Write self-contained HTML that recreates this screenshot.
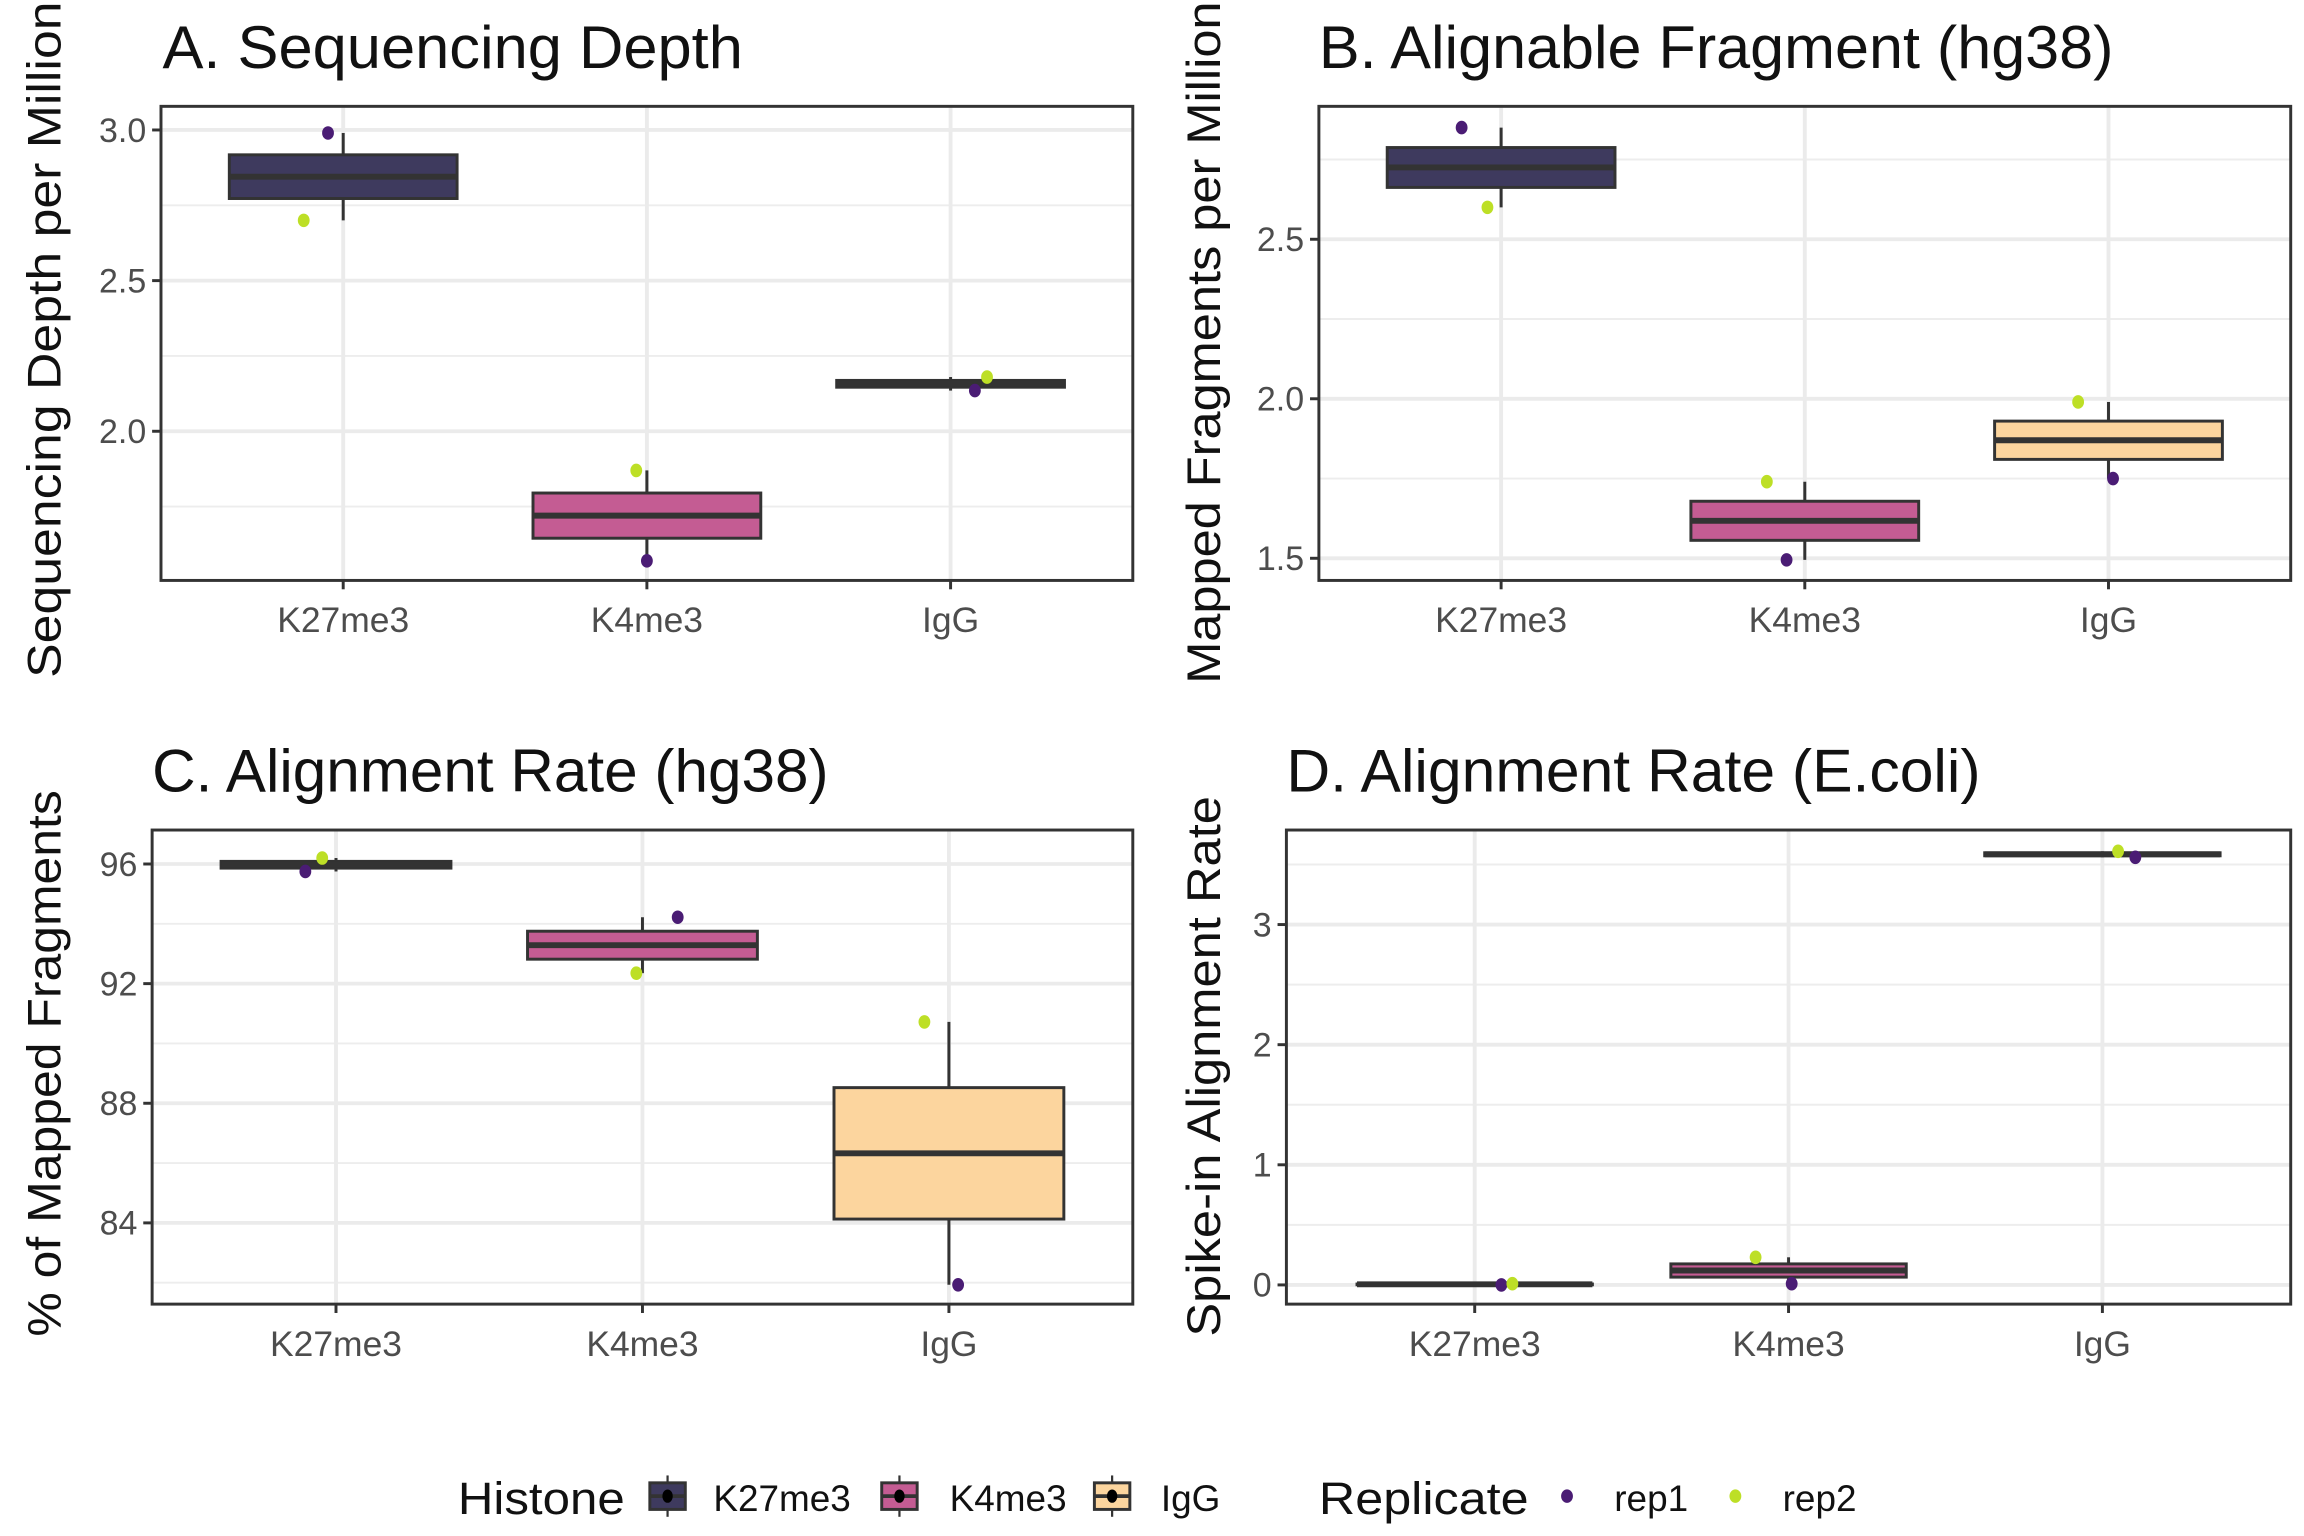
<!DOCTYPE html>
<html><head><meta charset="utf-8"><style>
html,body{margin:0;padding:0;background:#fff;}
svg{display:block;}
text{font-family:"Liberation Sans Narrow","Liberation Sans",sans-serif;}
</style></head><body>
<svg id="chart" width="2304" height="1536" viewBox="0 0 1560 1040" preserveAspectRatio="none" xmlns="http://www.w3.org/2000/svg"></svg>
<script>
const categories = ["K27me3","K4me3","IgG"];
const histoneColors = ["#3e3a5e","#c45c93","#fcd59e"];
const repLabels = ["rep1","rep2"];
const repColors = ["#4a1c74","#bddf26"];
// panel A: sequencing depth (millions)
const aRep1 = [2.99, 1.57, 2.135];
const aRep2 = [2.70, 1.87, 2.18];
const aJit1 = [-0.05, 0.0, 0.08];
const aJit2 = [-0.13, -0.035, 0.12];
const aTicks = [2.0, 2.5, 3.0];
const aTickLabels = ["2.0","2.5","3.0"];
// panel B: alignable fragments
const bRep1 = [2.85, 1.495, 1.75];
const bRep2 = [2.60, 1.74, 1.99];
const bJit1 = [-0.13, -0.06, 0.015];
const bJit2 = [-0.045, -0.125, -0.10];
const bTicks = [1.5, 2.0, 2.5];
const bTickLabels = ["1.5","2.0","2.5"];
// panel C: alignment rate hg38
const cRep1 = [95.75, 94.22, 81.93];
const cRep2 = [96.2, 92.35, 90.72];
const cJit1 = [-0.10, 0.115, 0.03];
const cJit2 = [-0.045, -0.02, -0.08];
const cTicks = [84, 88, 92, 96];
const cTickLabels = ["84","88","92","96"];
// panel D: alignment rate E.coli
const dRep1 = [0.0, 0.01, 3.56];
const dRep2 = [0.01, 0.23, 3.61];
const dJit1 = [0.085, 0.01, 0.105];
const dJit2 = [0.12, -0.105, 0.05];
const dTicks = [0, 1, 2, 3];
const dTickLabels = ["0","1","2","3"];

const svg = document.getElementById('chart');
const NS = 'http://www.w3.org/2000/svg';
function mk(tag, attrs, parent, txt){
  const e = document.createElementNS(NS, tag);
  for (const k in attrs) e.setAttribute(k, attrs[k]);
  if (txt !== undefined) e.textContent = txt;
  (parent || svg).appendChild(e);
  return e;
}
function q(a,b,p){const lo=Math.min(a,b),hi=Math.max(a,b);return lo+(hi-lo)*p;}

function panel(cfg){
  const g = mk('g', {});
  
  
  const {x0,x1,y0,y1,vmin,vmax} = cfg;
  const ys = v => y1 - (v - vmin) / (vmax - vmin) * (y1 - y0);
  const step = (x1 - x0) / 3.2;
  const xs = i => x0 + step * (i + 0.6);
  const minors = [];
  for (let i = 0; i < cfg.ticks.length - 1; i++) minors.push((cfg.ticks[i] + cfg.ticks[i+1]) / 2);
  const d = cfg.ticks[1] - cfg.ticks[0];
  minors.push(cfg.ticks[0] - d/2); minors.push(cfg.ticks[cfg.ticks.length-1] + d/2);
  minors.forEach(v => { if (v > vmin && v < vmax) {
    const l = mk('line', {x1:x0,x2:x1,y1:ys(v),y2:ys(v),stroke:'#ededed','stroke-width':1.3}, g);
      }});
  cfg.ticks.forEach((v,i) => {
    const l = mk('line', {x1:x0,x2:x1,y1:ys(v),y2:ys(v),stroke:'#ebebeb','stroke-width':2.6}, g);
     
    const t = mk('line', {x1:x0-6,x2:x0,y1:ys(v),y2:ys(v),stroke:'#333','stroke-width':2}, g);
     
    const lab = mk('text', {x:x0-10,y:ys(v)+8,'text-anchor':'end','font-size':23,fill:'#4d4d4d'}, g, cfg.tickLabels[i]);
     
  });
  categories.forEach((c,i) => {
    const l = mk('line', {x1:xs(i),x2:xs(i),y1:y0,y2:y1,stroke:'#ebebeb','stroke-width':2.6}, g);
     
    const t = mk('line', {x1:xs(i),x2:xs(i),y1:y1,y2:y1+6,stroke:'#333','stroke-width':2}, g);
     
    const lab = mk('text', {x:xs(i),y:y1+35,'text-anchor':'middle','font-size':24,fill:'#4d4d4d'}, g, c);
     
  });
  categories.forEach((c,i) => {
    const a = cfg.rep1[i], b = cfg.rep2[i];
    const lo = Math.min(a,b), hi = Math.max(a,b);
    const q1 = q(a,b,0.25), med = q(a,b,0.5), q3 = q(a,b,0.75);
    const bw = step * 0.75, bx = xs(i) - bw/2;
    const w = mk('line', {x1:xs(i),x2:xs(i),y1:ys(hi),y2:ys(lo),stroke:'#333','stroke-width':2}, g);
     
    const r = mk('rect', {x:bx,y:ys(q3),width:bw,height:Math.max(ys(q1)-ys(q3),0.5),fill:histoneColors[i],stroke:'#333','stroke-width':2}, g);
     
    const m = mk('line', {x1:bx,x2:bx+bw,y1:ys(med),y2:ys(med),stroke:'#333','stroke-width':4}, g);
     
  });
  categories.forEach((c,i) => {
    [[cfg.rep1,cfg.jit1,0],[cfg.rep2,cfg.jit2,1]].forEach(([vals,jit,k]) => {
      const p = mk('ellipse', {cx:xs(i)+jit[i]*step,cy:ys(vals[i]),rx:4,ry:4.6,fill:repColors[k]}, g);
       
    });
  });
  const fr = mk('rect', {x:x0,y:y0,width:x1-x0,height:y1-y0,fill:'none',stroke:'#333','stroke-width':2}, g);
   
  const tt = mk('text', {x:cfg.tx,y:cfg.ty,'font-size':41,fill:'#111',textLength:cfg.tw,lengthAdjust:'spacingAndGlyphs'}, g, cfg.title);
   
  const yt = mk('text', {x:0,y:0,'font-size':32,fill:'#111','text-anchor':'middle',textLength:cfg.yw,lengthAdjust:'spacingAndGlyphs',transform:`translate(${cfg.ytx},${cfg.yty}) rotate(-90)`}, g, cfg.ytitle);
   
}

function lim(ticks, y0, y1, t0y, t1y){
  const per = (ticks[ticks.length-1]-ticks[0])/(t0y-t1y);
  return {vmin: ticks[0] - (y1 - t0y)*per, vmax: ticks[ticks.length-1] + (t1y - y0)*per};
}
let L;
L = lim(aTicks,72,393,292,88);
panel({name:'panel-a',x0:109,x1:767,y0:72,y1:393,vmin:L.vmin,vmax:L.vmax,ticks:aTicks,tickLabels:aTickLabels,rep1:aRep1,rep2:aRep2,jit1:aJit1,jit2:aJit2,title:'A. Sequencing Depth',tx:110,ty:46,tw:393,ytitle:'Sequencing Depth per Million',ytx:41,yty:230,yw:458});
L = lim(bTicks,72,393,378,162);
panel({name:'panel-b',x0:893,x1:1551,y0:72,y1:393,vmin:L.vmin,vmax:L.vmax,ticks:bTicks,tickLabels:bTickLabels,rep1:bRep1,rep2:bRep2,jit1:bJit1,jit2:bJit2,title:'B. Alignable Fragment (hg38)',tx:893,ty:46,tw:538,ytitle:'Mapped Fragments per Million',ytx:826,yty:232,yw:462});
L = lim(cTicks,562,883,828,585);
panel({name:'panel-c',x0:103,x1:767,y0:562,y1:883,vmin:L.vmin,vmax:L.vmax,ticks:cTicks,tickLabels:cTickLabels,rep1:cRep1,rep2:cRep2,jit1:cJit1,jit2:cJit2,title:'C. Alignment Rate (hg38)',tx:103,ty:536,tw:458,ytitle:'% of Mapped Fragments',ytx:41,yty:720,yw:370});
L = lim(dTicks,562,883,870,626);
panel({name:'panel-d',x0:871,x1:1551,y0:562,y1:883,vmin:L.vmin,vmax:L.vmax,ticks:dTicks,tickLabels:dTickLabels,rep1:dRep1,rep2:dRep2,jit1:dJit1,jit2:dJit2,title:'D. Alignment Rate (E.coli)',tx:871,ty:536,tw:470,ytitle:'Spike-in Alignment Rate',ytx:826,yty:722,yw:366});

const lg = mk('g', {});
 
const h = mk('text', {x:310,y:1025,'font-size':31,fill:'#111',textLength:113,lengthAdjust:'spacingAndGlyphs'}, lg, 'Histone');
 
const keyX = [440,597,741], labX = [483,643,786];
categories.forEach((c,i) => {
  const k = mk('g', {}, lg);
   
  mk('line', {x1:keyX[i]+12,x2:keyX[i]+12,y1:999,y2:1027,stroke:'#333','stroke-width':1.5}, k);
  mk('rect', {x:keyX[i],y:1004,width:24,height:18,fill:histoneColors[i],stroke:'#333','stroke-width':2}, k);
  mk('line', {x1:keyX[i],x2:keyX[i]+24,y1:1013,y2:1013,stroke:'#333','stroke-width':2.5}, k);
  mk('ellipse', {cx:keyX[i]+12,cy:1013,rx:3.5,ry:4.5,fill:'#000'}, k);
  mk('text', {x:labX[i],y:1023,'font-size':25,fill:'#111'}, k, c);
});
const r = mk('text', {x:893,y:1025,'font-size':31,fill:'#111',textLength:142,lengthAdjust:'spacingAndGlyphs'}, lg, 'Replicate');
 
const dotX = [1061,1175], rlabX = [1093,1207];
repLabels.forEach((rl,i) => {
  const k = mk('g', {}, lg);
   
  mk('ellipse', {cx:dotX[i],cy:1013,rx:4,ry:4.6,fill:repColors[i]}, k);
  mk('text', {x:rlabX[i],y:1023,'font-size':25,fill:'#111'}, k, rl);
});
</script>
</body></html>
